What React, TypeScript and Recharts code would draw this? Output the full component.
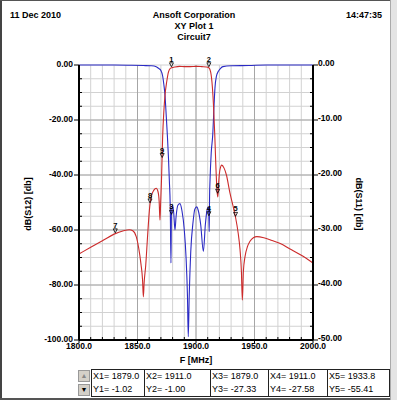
import { ComposedChart, Line, Scatter, XAxis, YAxis, CartesianGrid, ReferenceLine } from "recharts";

// dB(S12), left axis
const s12Freq = [
  1800, 1810, 1820, 1830, 1838, 1843, 1846, 1849, 1851, 1853, 1854.3, 1855, 1855.7, 1857, 1858.5,
  1859.5, 1860.7, 1862, 1864, 1866, 1867.5, 1868.5, 1869.2, 1869.8, 1870.5, 1871.5, 1872.5, 1873.5,
  1875, 1876.5, 1878, 1879, 1882, 1886, 1890, 1895, 1900, 1905, 1909, 1911, 1912.5, 1914, 1915, 1916,
  1917, 1918, 1918.7, 1919.5, 1920.5, 1922, 1924, 1926, 1929, 1931.5, 1933.8, 1936, 1937.6, 1938.8,
  1939.6, 1940.5, 1941.9, 1944, 1946, 1949, 1952, 1958, 1965, 1972, 1980, 1990, 2000,
];
const s12Db = [
  -68.7, -66.3, -63.9, -61.5, -60.3, -59.9, -60.3, -62.5, -66.5, -72.5, -78, -84.3, -79, -73, -63,
  -56.5, -50.5, -47.5, -45.5, -44.8, -46, -49.5, -56.4, -50, -42, -26, -17, -11,
  -6, -2.5, -1.2, -1.02, -0.7, -0.5, -0.6, -0.6, -0.5, -0.6, -0.7, -1.0, -2.5, -8, -15, -25,
  -37, -46, -48, -42, -38, -36.4, -37.5, -40, -46.5, -51, -55.4, -61, -67, -75,
  -85.5, -75, -69.7, -66, -64.2, -62.8, -62.4, -62.8, -63.8, -64.9, -66.8, -69.2, -72,
];

// dB(S11), right axis
const s11Freq = [
  1800, 1830, 1845, 1855, 1862, 1866, 1868, 1870, 1871.5, 1872.5, 1873.5, 1874.5, 1875.5, 1876.5,
  1877.2, 1878, 1878.6, 1879, 1880, 1881, 1882, 1883, 1884.5, 1886.3, 1888, 1890, 1891.5, 1892.7,
  1893.4, 1894.2, 1895.5, 1897.5, 1899, 1900.6, 1902, 1904, 1906.3, 1908, 1909.5, 1910.5, 1911,
  1911.3, 1911.6, 1912, 1913, 1914.3, 1915.5, 1916.2, 1917.5, 1919, 1921, 1923, 1930, 1945, 1960, 2000,
];
const s11Db = [
  0, 0, -0.05, -0.1, -0.15, -0.3, -0.6, -1.0, -2, -3.5, -5.5, -9, -12.7, -17,
  -20.9, -26, -36, -27.33, -25.5, -27, -30, -27.5, -25.5, -25.2, -26.5, -30, -35, -42,
  -49.4, -42, -34, -28.5, -26.2, -25.8, -26.5, -29, -33.9, -29, -26.3, -25.8, -27.58,
  -30.3, -24, -20.9, -16, -12.7, -7, -4.2, -2, -1.2, -0.6, -0.3, -0.15, -0.1, 0, 0,
];

// markers on S12 (left axis) and S11 (right axis)
const markerIds = ["1", "2", "5", "6", "7", "8", "9"];
const markerFreq = [1879, 1911, 1933.8, 1918.5, 1831, 1860.7, 1871.1];
const markerDb = [-1.02, -1.0, -55.41, -47, -61.4, -50.5, -34];
const markerIdsR = ["3", "4"];
const markerFreqR = [1879, 1911];
const markerDbR = [-27.33, -27.58];

const freqTicks = [
  1800, 1810, 1820, 1830, 1840, 1850, 1860, 1870, 1880, 1890, 1900, 1910, 1920, 1930, 1940, 1950,
  1960, 1970, 1980, 1990, 2000,
];
const leftTicks = [
  0, -5, -10, -15, -20, -25, -30, -35, -40, -45, -50, -55, -60, -65, -70, -75, -80, -85, -90, -95, -100,
];
const rightTicks = [
  0, -2.5, -5, -7.5, -10, -12.5, -15, -17.5, -20, -22.5, -25, -27.5, -30, -32.5, -35, -37.5, -40,
  -42.5, -45, -47.5, -50,
];
const majorFreq = [1850, 1900, 1950];
const majorDb = [-20, -40, -60, -80];

const readX = ["X1= 1879.0", "X2= 1911.0", "X3= 1879.0", "X4= 1911.0", "X5= 1933.8"];
const readY = ["Y1= -1.02", "Y2= -1.00", "Y3= -27.33", "Y4= -27.58", "Y5= -55.41"];
const cellEdges = [91, 144, 210, 268, 327, 389];

const s12Data = s12Freq.map((f, i) => ({ f, v: s12Db[i] }));
const s11Data = s11Freq.map((f, i) => ({ f, v: s11Db[i] }));
const markerData = markerIds.map((id, i) => ({ id, f: markerFreq[i], v: markerDb[i] }));
const markerDataR = markerIdsR.map((id, i) => ({ id, f: markerFreqR[i], v: markerDbR[i] }));

const FONT = "'Liberation Sans', Arial, sans-serif";
const RED = "#cc2b2b";
const BLUE = "#2a2ac4";

const LeftTick = ({ x, y, payload }: any) => {
  const v = payload.value;
  const major = v % 20 === 0;
  return (
    <g>
      <line x1={major ? x - 5 : x} x2={major ? x : x + 3} y1={y} y2={y} stroke="#000" />
      {major && (
        <text x={x - 6} y={y + 1.5} textAnchor="end" fontSize={8.5} fontWeight="bold" fill="#000" fontFamily={FONT}>
          {v.toFixed(2)}
        </text>
      )}
    </g>
  );
};

const RightTick = ({ x, y, payload }: any) => {
  const v = payload.value;
  const major = v % 10 === 0;
  return (
    <g>
      <line x1={major ? x + 5 : x} x2={major ? x : x - 3} y1={y} y2={y} stroke="#000" />
      {major && (
        <text x={x + 5} y={y + 1} textAnchor="start" fontSize={8.5} fontWeight="bold" fill="#000" fontFamily={FONT}>
          {v.toFixed(2)}
        </text>
      )}
    </g>
  );
};

const BottomTick = ({ x, y, payload }: any) => {
  const v = payload.value;
  const major = v % 50 === 0;
  return (
    <g>
      <line x1={x} x2={x} y1={major ? y + 3 : y} y2={major ? y : y - 3} stroke="#000" />
      {major && (
        <text x={x} y={y + 9} textAnchor="middle" fontSize={8.5} fontWeight="bold" fill="#000" fontFamily={FONT}>
          {v.toFixed(1)}
        </text>
      )}
    </g>
  );
};

const MarkerShape = ({ cx, cy, payload }: any) => (
  <g>
    <text x={cx} y={cy - 6} textAnchor="middle" fontSize={7.5} fontWeight="bold" fill="#000" fontFamily={FONT}>
      {payload.id}
    </text>
    <path d={`M${cx - 2},${cy - 5} L${cx + 2},${cy - 5} L${cx},${cy - 1} Z`} fill="none" stroke="#000" strokeWidth={0.8} />
  </g>
);

const bold = { fontFamily: FONT, fontWeight: "bold" as const, fontSize: 9, color: "#000" };

export default function App() {
  return (
    <div
      style={{
        position: "absolute",
        left: 0,
        top: 0,
        width: 397,
        height: 400,
        background: "#fff",
        overflow: "hidden",
        fontFamily: FONT,
      }}
    >
      <ComposedChart width={397} height={400} margin={{ top: 65, right: 0, bottom: 30, left: 0 }}>
        <CartesianGrid stroke="#d2d2d2" yAxisId="l" />
        {majorFreq.map((f) => (
          <ReferenceLine key={f} x={f} yAxisId="l" stroke="#a6a6a6" />
        ))}
        {majorDb.map((d) => (
          <ReferenceLine key={d} y={d} yAxisId="l" stroke="#a6a6a6" />
        ))}
        <XAxis
          dataKey="f"
          type="number"
          domain={[1800, 2000]}
          ticks={freqTicks}
          interval={0}
          height={30}
          tickSize={0}
          tickMargin={0}
          tickLine={false}
          axisLine={{ stroke: "#000", strokeWidth: 2 }}
          tick={<BottomTick />}
        />
        <YAxis
          yAxisId="l"
          orientation="left"
          type="number"
          domain={[-100, 0]}
          ticks={leftTicks}
          interval={0}
          width={79}
          tickSize={0}
          tickMargin={0}
          tickLine={false}
          axisLine={{ stroke: "#000", strokeWidth: 2 }}
          tick={<LeftTick />}
        />
        <YAxis
          yAxisId="r"
          orientation="right"
          type="number"
          domain={[-50, 0]}
          ticks={rightTicks}
          interval={0}
          width={84}
          tickSize={0}
          tickMargin={0}
          tickLine={false}
          axisLine={{ stroke: "#000", strokeWidth: 2 }}
          tick={<RightTick />}
        />
        <Line
          data={s11Data}
          yAxisId="r"
          dataKey="v"
          type="monotone"
          stroke={BLUE}
          strokeWidth={1.1}
          dot={false}
          isAnimationActive={false}
        />
        <Line
          data={s12Data}
          yAxisId="l"
          dataKey="v"
          type="monotone"
          stroke={RED}
          strokeWidth={1.1}
          dot={false}
          isAnimationActive={false}
        />
        <Scatter data={markerData} yAxisId="l" dataKey="v" shape={<MarkerShape />} isAnimationActive={false} />
        <Scatter data={markerDataR} yAxisId="r" dataKey="v" shape={<MarkerShape />} isAnimationActive={false} />
      </ComposedChart>

      <div style={{ ...bold, position: "absolute", left: 10, top: 10 }}>11 Dec 2010</div>
      <div style={{ ...bold, position: "absolute", left: 346, top: 10 }}>14:47:35</div>
      <div style={{ ...bold, position: "absolute", left: 0, width: 388, top: 10, textAlign: "center", lineHeight: "11px" }}>
        Ansoft Corporation
        <br />
        XY Plot 1
        <br />
        Circuit7
      </div>
      <div
        style={{
          ...bold,
          position: "absolute",
          left: 28,
          top: 204,
          transform: "translate(-50%, -50%) rotate(-90deg)",
          whiteSpace: "nowrap",
        }}
      >
        dB(S12) [db]
      </div>
      <div
        style={{
          ...bold,
          position: "absolute",
          left: 359,
          top: 204,
          transform: "translate(-50%, -50%) rotate(90deg)",
          whiteSpace: "nowrap",
        }}
      >
        dB(S11) [db]
      </div>
      <div style={{ ...bold, position: "absolute", left: 0, width: 392, top: 355, textAlign: "center" }}>F [MHz]</div>

      {/* marker readout table */}
      <div style={{ position: "absolute", left: 78, top: 370, width: 12, height: 12, background: "#d4d0c8", border: "1px solid #999", boxSizing: "border-box", fontSize: 7, lineHeight: "10px", textAlign: "center", color: "#888" }}>▲</div>
      <div style={{ position: "absolute", left: 78, top: 384, width: 12, height: 12, background: "#d4d0c8", border: "1px solid #999", boxSizing: "border-box", fontSize: 7, lineHeight: "10px", textAlign: "center", color: "#000" }}>▼</div>
      {readX.map((t, i) => (
        <div
          key={t}
          style={{
            position: "absolute",
            left: cellEdges[i],
            top: 369,
            width: cellEdges[i + 1] - cellEdges[i] + 1,
            height: 28,
            border: "1px solid #222",
            boxSizing: "border-box",
            fontFamily: FONT,
            fontSize: 9,
            lineHeight: "13px",
            paddingLeft: 1,
            color: "#000",
          }}
        >
          {t}
          <br />
          {readY[i]}
        </div>
      ))}

      {/* window frame */}
      <div style={{ position: "absolute", left: 0, top: 0, width: 2, height: 400, background: "#444" }} />
      <div style={{ position: "absolute", left: 0, top: 0, width: 397, height: 1, background: "#555" }} />
      <div style={{ position: "absolute", left: 0, top: 398, width: 397, height: 2, background: "#555" }} />
      <div style={{ position: "absolute", left: 390, top: 0, width: 7, height: 400, background: "#e4e4e4", borderLeft: "1px solid #aaa", boxSizing: "border-box" }} />
    </div>
  );
}
